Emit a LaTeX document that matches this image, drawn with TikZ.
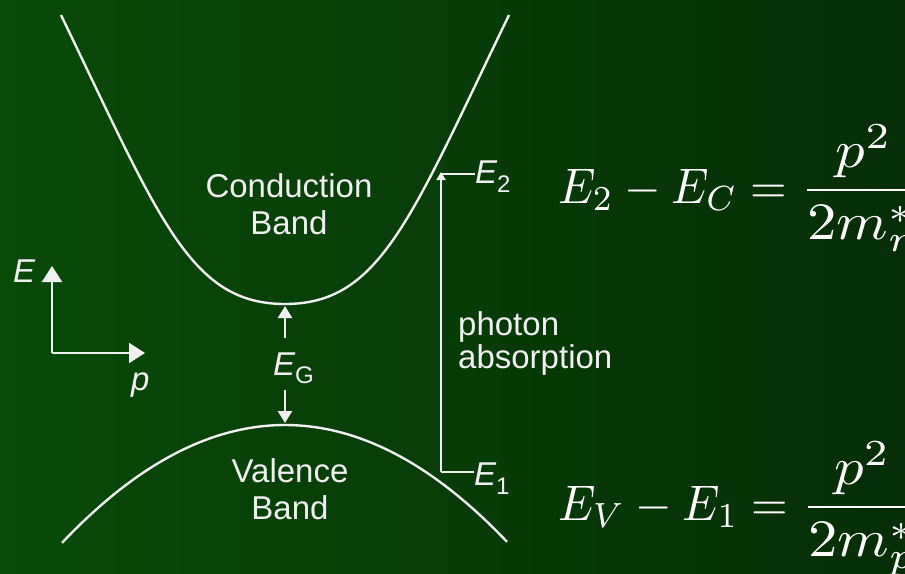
\documentclass[tikz,border=0pt]{standalone}
\usepackage[no-math]{fontspec}
\setmainfont{Liberation Sans}
\usetikzlibrary{arrows.meta}
\definecolor{bgL}{RGB}{8,74,8}
\definecolor{bgR}{RGB}{7,46,7}
\definecolor{ink}{RGB}{240,240,240}
\begin{document}
\begin{tikzpicture}[x=1pt,y=-1pt,
  band/.style={line width=2.4pt, draw=ink},
  wire/.style={line width=2.3pt, draw=ink},
  bigtip/.style={-{Triangle[width=20pt,length=16pt]}},
  midtip/.style={-{Triangle[width=14pt,length=12pt]}},
  smalltip/.style={-{Triangle[width=9pt,length=8pt]}},
  lbl/.style={text=ink, inner sep=0pt, font=\fontsize{33}{37}\selectfont},
  eqn/.style={text=white, inner sep=0pt}]
\useasboundingbox (0,0) rectangle (905,573);
\clip (0,0) rectangle (905,573);
\shade[left color=bgL, right color=bgR] (0,0) rectangle (905,573);

% conduction band
\draw[band] (61,15) .. controls (160,220) and (190,304) .. (285,304)
                    .. controls (380,304) and (410,220) .. (509,15);
% valence band
\draw[band] plot[domain=62:507, samples=80] (\x, {425+0.237*((\x-285)/10)^2});

% labels
\node[lbl, align=center] (cb) at (289,204) {Conduction\\Band};
\node[lbl, align=center] (vb) at (290,489) {Valence\\Band};
\node[lbl, align=left, anchor=west, font=\fontsize{33}{33}\selectfont] (ph) at (458,343) {photon\\absorption};

% axes
\coordinate (o) at (52,353);
\coordinate (ya) at (52,266);
\coordinate (xa) at (145,353);
\draw[wire, bigtip] (o) -- (ya);
\draw[wire, bigtip] (o) -- (xa);
\node[lbl, anchor=base west] (eax) at (13,282) {\itshape E};
\node[lbl, anchor=base west] (pax) at (131,390) {\itshape p};

% energy gap
\node[lbl, anchor=base west] (eg) at (273,375) {\itshape E\upshape\raisebox{-8pt}{\fontsize{24}{24}\selectfont G}};
\coordinate (cbmin) at (285,306);
\coordinate (vbmax) at (285,423);
\draw[wire, midtip] (285,338) -- (cbmin);
\draw[wire, midtip] (285,390) -- (vbmax);

% photon absorption
\coordinate (e1c) at (441,472);
\coordinate (e2c) at (441,172);
\coordinate (e2k) at (441,174);
\node[lbl, anchor=base west] (e2) at (475,183) {\itshape E\upshape\raisebox{-9pt}{\fontsize{24}{24}\selectfont 2}};
\node[lbl, anchor=base west] (e1) at (474,485) {\itshape E\upshape\raisebox{-9pt}{\fontsize{24}{24}\selectfont 1}};
\draw[wire, smalltip] (e1c) -- (e2c);
\draw[wire] (e2k) -- (e2.west |- e2k);
\draw[wire] (e1c) -- (e1.west |- e1c);

% equations
\node[eqn, anchor=base west] (eq1) at (558,203) {\scalebox{4.7}[5]{$\displaystyle E_2 - E_C = \scalebox{1.25}[1.05]{$\displaystyle\frac{p^2}{2m_n^*}$}$}};
\node[eqn, anchor=base west] (eq2) at (558,520) {\scalebox{4.7}[5]{$\displaystyle E_V - E_1 = \scalebox{1.25}[1.05]{$\displaystyle\frac{p^2}{2m_p^*}$}$}};
\end{tikzpicture}
\end{document}
